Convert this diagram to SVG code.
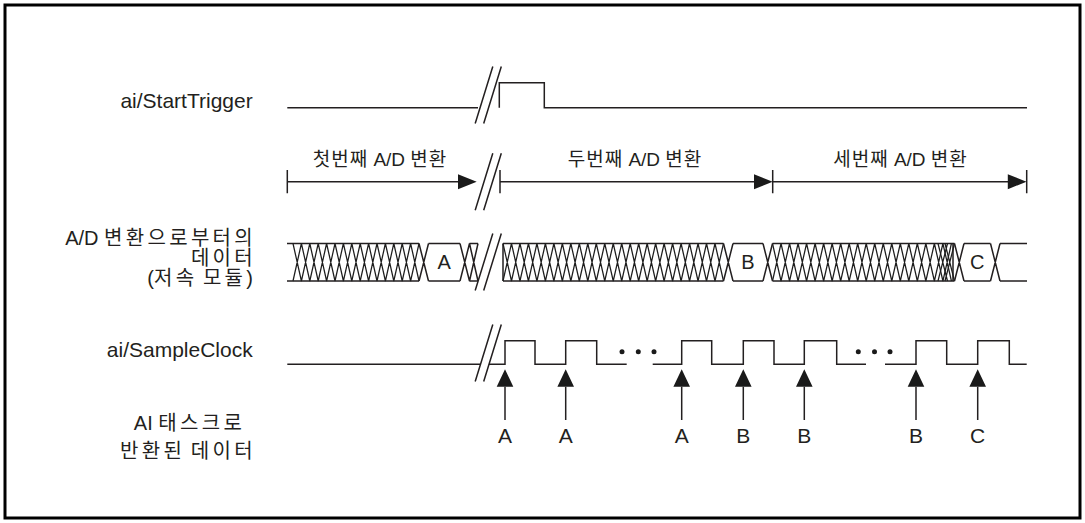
<svg xmlns="http://www.w3.org/2000/svg" width="1085" height="523" viewBox="0 0 1085 523">
<style>
.ln{fill:none;stroke:#231f20;stroke-width:1.5}
.ht{fill:none;stroke:#1e1e1e;stroke-width:1.25}
.ah{fill:#1a1a1a}
.t{font-family:"Liberation Sans","Noto Sans CJK KR",sans-serif;font-size:20px;fill:#231f20}
.b{font-size:21px}
.s{font-size:19px}
.k{letter-spacing:3.3px}
.k1{letter-spacing:1px}
</style>
<rect x="5" y="5" width="1075" height="513" fill="#fff" stroke="#000" stroke-width="3"/>

<g id="labels">
<text class="t b" x="252.7" y="108" text-anchor="end">ai/StartTrigger</text>
<text class="t" x="256" y="245" text-anchor="end">A/D <tspan class="k">변환으로부터의</tspan></text>
<text class="t" x="256" y="265" text-anchor="end"><tspan class="k">데이터</tspan></text>
<text class="t" x="253" y="285" text-anchor="end">(<tspan class="k">저속</tspan> <tspan class="k">모듈</tspan>)</text>
<text class="t b" x="252.7" y="357" text-anchor="end">ai/SampleClock</text>
<text class="t" x="189.5" y="430" text-anchor="middle">AI <tspan class="k">태스크로</tspan></text>
<text class="t" x="188" y="458" text-anchor="middle"><tspan class="k">반환된</tspan> <tspan class="k">데이터</tspan></text>
</g>

<g id="start-trigger">
<path class="ln" d="M287.3,107.7 H478 M499.3,107.7 V82.7 H544.3 V107.7 H1027"/>
<path class="ln" d="M475.2,123.5 L492.8,66.5 M483.7,123.5 L501.3,66.5"/>
</g>

<g id="conversions">
<text class="t s" x="380" y="166" text-anchor="middle"><tspan class="k1">첫번째</tspan> A/D <tspan class="k1">변환</tspan></text>
<text class="t s" x="635" y="166" text-anchor="middle"><tspan class="k1">두번째</tspan> A/D <tspan class="k1">변환</tspan></text>
<text class="t s" x="900.5" y="166" text-anchor="middle"><tspan class="k1">세번째</tspan> A/D <tspan class="k1">변환</tspan></text>
<path class="ln" d="M287.3,181.7 H462 M287.3,170 V193.3 M500,181.7 H758 M500,170 V193.3 M772.7,181.7 H1012 M772.7,170 V193.3 M1026.7,170 V193.3"/>
<path class="ah" d="M476.7,181.7 L458,174.2 L458,189.2 Z M772.7,181.7 L754,174.2 L754,189.2 Z M1026.5,181.7 L1007.8,174.2 L1007.8,189.2 Z"/>
<path class="ln" d="M475.2,210.2 L492.8,153.2 M483.7,210.2 L501.3,153.2"/>
</g>

<g id="adc-data">
<path class="ln" d="M287,243.5 H419 M428.5,243.5 H460 M469.5,243.5 H478 M287,281 H419 M428.5,281 H460 M469.5,281 H478 M503,243.5 H723.5 M733,243.5 H763 M772.5,243.5 H954.5 M964,243.5 H990.5 M1000,243.5 H1027 M503,281 H723.5 M733,281 H763 M772.5,281 H954.5 M964,281 H990.5 M1000,281 H1027 M503,243.5 V281 M953,243.5 V281"/>
<path class="ht" d="M293,243.5 l8.4,37.5m-8.4,0l8.4,-37.5 l8.4,37.5m-8.4,0l8.4,-37.5 l8.4,37.5m-8.4,0l8.4,-37.5 l8.4,37.5m-8.4,0l8.4,-37.5 l8.4,37.5m-8.4,0l8.4,-37.5 l8.4,37.5m-8.4,0l8.4,-37.5 l8.4,37.5m-8.4,0l8.4,-37.5 l8.4,37.5m-8.4,0l8.4,-37.5 l8.4,37.5m-8.4,0l8.4,-37.5 l8.4,37.5m-8.4,0l8.4,-37.5 l8.4,37.5m-8.4,0l8.4,-37.5 l8.4,37.5m-8.4,0l8.4,-37.5 l8.4,37.5m-8.4,0l8.4,-37.5 l8.4,37.5m-8.4,0l8.4,-37.5 l8.4,37.5m-8.4,0l8.4,-37.5"/>
<path class="ht" d="M503,243.5 l8.48,37.5m-8.48,0l8.48,-37.5 l8.48,37.5m-8.48,0l8.48,-37.5 l8.48,37.5m-8.48,0l8.48,-37.5 l8.48,37.5m-8.48,0l8.48,-37.5 l8.48,37.5m-8.48,0l8.48,-37.5 l8.48,37.5m-8.48,0l8.48,-37.5 l8.48,37.5m-8.48,0l8.48,-37.5 l8.48,37.5m-8.48,0l8.48,-37.5 l8.48,37.5m-8.48,0l8.48,-37.5 l8.48,37.5m-8.48,0l8.48,-37.5 l8.48,37.5m-8.48,0l8.48,-37.5 l8.48,37.5m-8.48,0l8.48,-37.5 l8.48,37.5m-8.48,0l8.48,-37.5 l8.48,37.5m-8.48,0l8.48,-37.5 l8.48,37.5m-8.48,0l8.48,-37.5 l8.48,37.5m-8.48,0l8.48,-37.5 l8.48,37.5m-8.48,0l8.48,-37.5 l8.48,37.5m-8.48,0l8.48,-37.5 l8.48,37.5m-8.48,0l8.48,-37.5 l8.48,37.5m-8.48,0l8.48,-37.5 l8.48,37.5m-8.48,0l8.48,-37.5 l8.48,37.5m-8.48,0l8.48,-37.5 l8.48,37.5m-8.48,0l8.48,-37.5 l8.48,37.5m-8.48,0l8.48,-37.5 l8.48,37.5m-8.48,0l8.48,-37.5 l8.48,37.5m-8.48,0l8.48,-37.5"/>
<path class="ht" d="M772.5,243.5 l8.52,37.5m-8.52,0l8.52,-37.5 l8.52,37.5m-8.52,0l8.52,-37.5 l8.52,37.5m-8.52,0l8.52,-37.5 l8.52,37.5m-8.52,0l8.52,-37.5 l8.52,37.5m-8.52,0l8.52,-37.5 l8.52,37.5m-8.52,0l8.52,-37.5 l8.52,37.5m-8.52,0l8.52,-37.5 l8.52,37.5m-8.52,0l8.52,-37.5 l8.52,37.5m-8.52,0l8.52,-37.5 l8.52,37.5m-8.52,0l8.52,-37.5 l8.52,37.5m-8.52,0l8.52,-37.5 l8.52,37.5m-8.52,0l8.52,-37.5 l8.52,37.5m-8.52,0l8.52,-37.5 l8.52,37.5m-8.52,0l8.52,-37.5 l8.52,37.5m-8.52,0l8.52,-37.5 l8.52,37.5m-8.52,0l8.52,-37.5 l8.52,37.5m-8.52,0l8.52,-37.5 l8.52,37.5m-8.52,0l8.52,-37.5 l8.52,37.5m-8.52,0l8.52,-37.5 l8.52,37.5m-8.52,0l8.52,-37.5 l8.52,37.5m-8.52,0l8.52,-37.5"/>
<path class="ht" d="M945,243.5 l9.5,37.5m-9.5,0l9.5,-37.5 M938,243.5 l9.5,37.5m-9.5,0l9.5,-37.5"/>
<path class="ln" d="M419,243.5 l9.5,37.5m-9.5,0l9.5,-37.5 M460,243.5 l9.5,37.5m-9.5,0l9.5,-37.5 M469.5,243.5 l8.5,37.5m-8.5,0l8.5,-37.5 M723.5,243.5 l9.5,37.5m-9.5,0l9.5,-37.5 M763,243.5 l9.5,37.5m-9.5,0l9.5,-37.5 M954.5,243.5 l9.5,37.5m-9.5,0l9.5,-37.5 M990.5,243.5 l9.5,37.5m-9.5,0l9.5,-37.5"/>
<text class="t" x="444.2" y="269" text-anchor="middle">A</text>
<text class="t" x="748" y="269" text-anchor="middle">B</text>
<text class="t" x="977.2" y="269" text-anchor="middle">C</text>
<path class="ln" d="M475.2,290.5 L492.8,233.5 M483.7,290.5 L501.3,233.5"/>
</g>

<g id="sample-clock">
<path class="ln" d="M287.3,364.3 H480 M489,364.3 H505 V340.7 H535 V364.3 H565.7 V340.7 H596.7 V364.3 H626.7 M652.7,364.3 H681.7 V340.7 H711.7 V364.3 H743.3 V340.7 H774 V364.3 H804.3 V340.7 H836.7 V364.3 H866 M885,364.3 H916 V340.7 H946.7 V364.3 H977.7 V340.7 H1009.3 V364.3 H1026.7"/>
<path class="ln" d="M475.2,381.5 L492.8,324.5 M483.7,381.5 L501.3,324.5"/>
<g class="ah">
<circle cx="622" cy="351.7" r="2.5"/><circle cx="638.3" cy="351.7" r="2.5"/><circle cx="654" cy="351.7" r="2.5"/>
<circle cx="858.3" cy="351.7" r="2.5"/><circle cx="874.5" cy="351.7" r="2.5"/><circle cx="890" cy="351.7" r="2.5"/>
</g>
</g>

<g id="connectors">
<path class="ln" d="M505,420 V386.7 M565.7,420 V386.7 M681.7,420 V386.7 M743.3,420 V386.7 M804.3,420 V386.7 M916,420 V386.7 M977.7,420 V386.7"/>
<path class="ah" d="M505,369.3 l-8.3,17.4 h16.6 Z M565.7,369.3 l-8.3,17.4 h16.6 Z M681.7,369.3 l-8.3,17.4 h16.6 Z M743.3,369.3 l-8.3,17.4 h16.6 Z M804.3,369.3 l-8.3,17.4 h16.6 Z M916,369.3 l-8.3,17.4 h16.6 Z M977.7,369.3 l-8.3,17.4 h16.6 Z"/>
</g>

<g id="returned-data">
<text class="t b" x="505" y="443.3" text-anchor="middle">A</text>
<text class="t b" x="565.7" y="443.3" text-anchor="middle">A</text>
<text class="t b" x="681.7" y="443.3" text-anchor="middle">A</text>
<text class="t b" x="743.3" y="443.3" text-anchor="middle">B</text>
<text class="t b" x="804.3" y="443.3" text-anchor="middle">B</text>
<text class="t b" x="916" y="443.3" text-anchor="middle">B</text>
<text class="t b" x="977.7" y="443.3" text-anchor="middle">C</text>
</g>
</svg>
